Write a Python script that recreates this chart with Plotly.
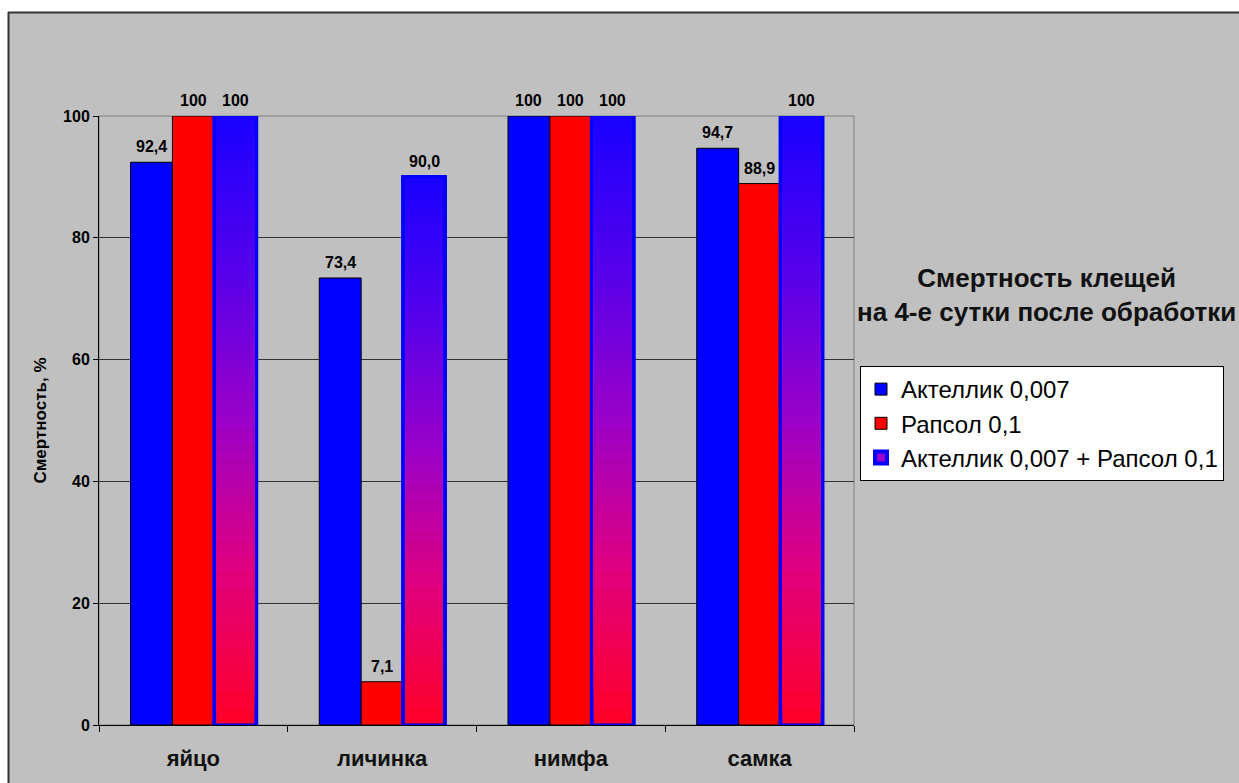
import plotly.graph_objects as go

categories = ["яйцо", "личинка", "нимфа", "самка"]
series_names = ["Актеллик 0,007", "Рапсол 0,1", "Актеллик 0,007 + Рапсол 0,1"]
aktellik = [92.4, 73.4, 100, 94.7]
rapsol = [100, 7.1, 100, 88.9]
combo = [100, 90.0, 100, 100]
y_ticks = [0, 20, 40, 60, 80, 100]

FONT = "Liberation Sans, Arial, sans-serif"
W = 0.222          # bar width in category units
OFFS = [-0.333, -0.111, 0.111]
PX_PER_CAT = 189.0
PX_PER_UNIT = 6.09

def fmt(v):
    return "100" if v == 100 else f"{v:.1f}".replace(".", ",")

# gradient stops (fraction from top of bar -> rgb)
stops = [(0.0, (25, 0, 255)), (0.25, (85, 0, 235)), (0.5, (155, 0, 200)),
         (0.75, (225, 0, 125)), (1.0, (255, 0, 40))]

def grad(t):
    for (t0, c0), (t1, c1) in zip(stops[:-1], stops[1:]):
        if t0 <= t <= t1:
            f = (t - t0) / (t1 - t0)
            return "rgb(%d,%d,%d)" % tuple(round(a + (b - a) * f) for a, b in zip(c0, c1))
    return "rgb(%d,%d,%d)" % stops[-1][1]

fig = go.Figure()

fig.add_trace(go.Bar(x=categories, y=aktellik, name=series_names[0], width=W, offset=OFFS[0],
                     marker=dict(color="#0000FF", line=dict(color="black", width=1))))
fig.add_trace(go.Bar(x=categories, y=rapsol, name=series_names[1], width=W, offset=OFFS[1],
                     marker=dict(color="#FF0000", line=dict(color="black", width=1))))
# outer bar (blue border) for combined series
fig.add_trace(go.Bar(x=categories, y=combo, name=series_names[2], width=W, offset=OFFS[2],
                     marker=dict(color="rgb(155,0,200)", line=dict(color="#0000FF", width=4))))

# gradient fill: stacked from bottom, each segment extends to the bar top
N = 80
inset_x = 2.0 / PX_PER_CAT
inset_y = 1.5 / PX_PER_UNIT
gx, gbase, gy, gcol = [], [], [], []
for k in range(N):
    for c, v in zip(categories, combo):
        b = inset_y + (v - 2 * inset_y) * k / N
        top = v - inset_y
        gx.append(c)
        gbase.append(b)
        gy.append(top - b)
        gcol.append(grad(1 - (k + 0.5) / N))
fig.add_trace(go.Bar(x=gx, y=gy, base=gbase, width=W - 2 * inset_x, offset=OFFS[2] + inset_x,
                     marker=dict(color=gcol, line=dict(width=0)), showlegend=False, hoverinfo="skip"))

# value labels
for vals, off in zip([aktellik, rapsol, combo], OFFS):
    for i, v in enumerate(vals):
        fig.add_annotation(x=i + off + W / 2, y=v, xref="x", yref="y", text=fmt(v),
                           showarrow=False, yanchor="bottom", yshift=5,
                           font=dict(family=FONT, size=16, color="black", weight="bold"))

# white margins above/left of the chart area, with dark border lines
def px_x(p):
    return (p - 99) / 755.0

def px_y(p):
    return (725 - p) / 609.0

fig.add_shape(type="rect", xref="paper", yref="paper", x0=px_x(-50), x1=px_x(1300),
              y0=px_y(12), y1=px_y(-50), line=dict(width=0), fillcolor="white", layer="below")
fig.add_shape(type="rect", xref="paper", yref="paper", x0=px_x(-50), x1=px_x(8),
              y0=px_y(830), y1=px_y(-50), line=dict(width=0), fillcolor="white", layer="below")
fig.add_shape(type="line", xref="paper", yref="paper", x0=px_x(8), x1=px_x(1300),
              y0=px_y(12.5), y1=px_y(12.5), line=dict(color="#333333", width=2))
fig.add_shape(type="line", xref="paper", yref="paper", x0=px_x(8.5), x1=px_x(8.5),
              y0=px_y(830), y1=px_y(12), line=dict(color="#333333", width=2))
# plot area border
fig.add_shape(type="rect", xref="paper", yref="paper", x0=0, x1=1, y0=0, y1=1,
              line=dict(color="#808080", width=1), layer="below")

# title
fig.add_annotation(x=px_x(1046), y=px_y(295), xref="paper", yref="paper",
                   text="Смертность клещей<br>на 4-е сутки после обработки",
                   showarrow=False, xanchor="center", yanchor="middle",
                   font=dict(family=FONT, size=26, color="#111111", weight="bold"))

fig.update_layout(
    width=1239, height=783,
    margin=dict(l=99, r=385, t=116, b=58, autoexpand=False),
    paper_bgcolor="#C0C0C0", plot_bgcolor="#C0C0C0",
    barmode="overlay", bargap=0.33,
    font=dict(family=FONT, color="black"),
    showlegend=True,
    legend=dict(x=px_x(860), y=px_y(366), xanchor="left", yanchor="top",
                bgcolor="white", bordercolor="black", borderwidth=1,
                font=dict(family=FONT, size=24, color="black"), tracegroupgap=0,
                itemwidth=30),
    xaxis=dict(type="category", categoryorder="array", categoryarray=categories,
               range=[-0.5, 3.5], showgrid=False, showline=True, linecolor="black", linewidth=1,
               ticks="outside", tickson="boundaries", ticklen=6, tickcolor="black",
               tickfont=dict(family=FONT, size=22, color="#111111", weight="bold"),
               ticklabelstandoff=14),
    yaxis=dict(range=[0, 100], tickvals=y_ticks, showgrid=True, gridcolor="#333333", gridwidth=1,
               showline=True, linecolor="black", linewidth=1, ticks="outside", ticklen=5,
               tickcolor="black", tickfont=dict(family=FONT, size=16, color="black", weight="bold"),
               zeroline=False,
               title=dict(text="Смертность, %",
                          font=dict(family=FONT, size=17, color="black", weight="bold"),
                          standoff=12)),
)

fig.write_html("out.html")
